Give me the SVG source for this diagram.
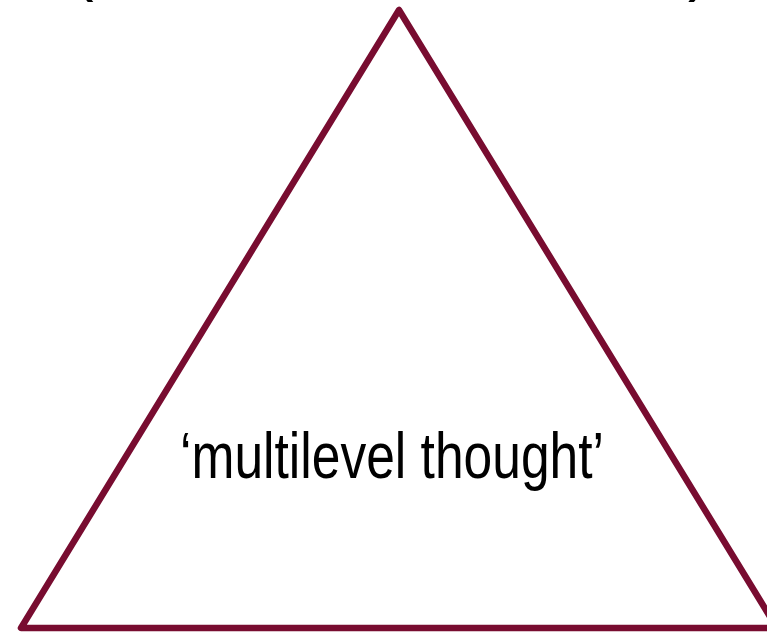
<svg xmlns="http://www.w3.org/2000/svg" width="767" height="632" viewBox="0 0 767 632">
<style>
.tri{fill:none;stroke:#780c30;stroke-width:6.5;stroke-linejoin:round}
.lbl{font-family:"Liberation Sans Narrow","Liberation Sans",Arial,sans-serif;font-size:65px;fill:#000}
</style>
<rect width="767" height="632" fill="#fff"/>
<g id="header">
<text class="lbl" x="72" y="-11">(</text>
<text class="lbl" x="688" y="-11">)</text>
</g>
<g id="triangle">
<polygon class="tri" points="399,10 21,628 777,628"/>
<text class="lbl" x="392" y="478" text-anchor="middle" textLength="424" lengthAdjust="spacingAndGlyphs">‘multilevel thought’</text>
</g>
</svg>
